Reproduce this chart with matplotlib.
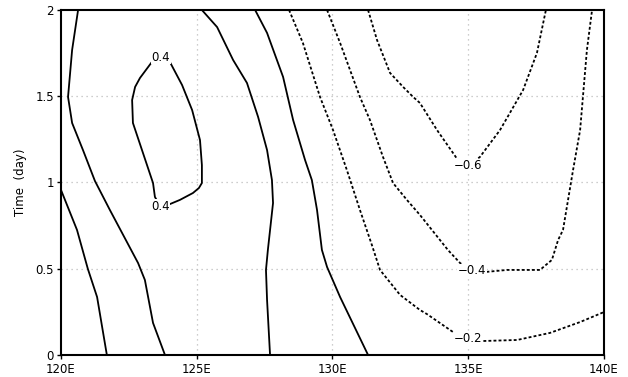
import matplotlib
matplotlib.use("Agg")
import matplotlib.pyplot as plt

# contour lines: lon (deg E), time (day)
line_a_lon = [120.0, 120.59, 120.99, 121.33, 121.69]
line_a_t = [0.957, 0.725, 0.499, 0.336, 0.0]

line_b_lon = [120.63, 120.41, 120.26, 120.41, 120.81, 121.25, 121.80, 122.84, 123.09, 123.39, 123.83]
line_b_t = [2.0, 1.768, 1.496, 1.345, 1.188, 1.009, 0.841, 0.533, 0.435, 0.186, 0.0]

loop_lon = [123.68, 124.01, 124.46, 124.83, 125.12, 125.19, 125.19, 125.08, 124.86, 124.38, 123.94,
            123.65, 123.46, 123.39, 123.02, 122.65, 122.62, 122.73, 122.91, 123.35, 123.68]
loop_t = [1.722, 1.699, 1.565, 1.420, 1.246, 1.101, 0.997, 0.968, 0.939, 0.899, 0.870,
          0.864, 0.916, 0.997, 1.171, 1.345, 1.478, 1.554, 1.606, 1.699, 1.722]

line_c_lon = [125.19, 125.75, 126.34, 126.85, 127.26, 127.59, 127.77, 127.81, 127.62, 127.55, 127.59, 127.70]
line_c_t = [2.0, 1.901, 1.710, 1.577, 1.380, 1.188, 1.014, 0.881, 0.609, 0.493, 0.319, 0.0]

line_d_lon = [127.15, 127.59, 128.18, 128.55, 128.99, 129.24, 129.43, 129.61, 129.80, 130.28, 131.31]
line_d_t = [2.0, 1.867, 1.612, 1.362, 1.130, 1.014, 0.841, 0.609, 0.510, 0.336, 0.0]

neg02_lon = [128.40, 128.91, 129.54, 130.02, 130.53, 131.01, 131.45, 131.75, 132.49, 133.22, 133.48,
             134.44, 135.0, 135.54, 136.80, 138.01, 139.12, 140.0]
neg02_t = [2.0, 1.809, 1.496, 1.304, 1.072, 0.841, 0.638, 0.493, 0.348, 0.261, 0.237,
           0.133, 0.09, 0.081, 0.087, 0.128, 0.191, 0.249]

neg04_lon = [129.80, 130.28, 131.01, 131.38, 131.86, 132.23, 132.74, 133.22, 134.25, 134.70, 135.14,
             135.62, 136.43, 137.64, 138.08, 138.31, 138.49, 138.86, 139.12, 139.37, 139.56]
neg04_t = [2.0, 1.809, 1.496, 1.362, 1.148, 0.997, 0.899, 0.812, 0.609, 0.533, 0.487,
           0.481, 0.493, 0.493, 0.551, 0.667, 0.725, 1.072, 1.304, 1.768, 2.0]

neg06_lon = [131.31, 131.64, 132.12, 132.60, 132.97, 133.22, 133.85, 134.62, 134.99, 135.43,
             136.17, 137.02, 137.53, 137.86]
neg06_t = [2.0, 1.826, 1.635, 1.554, 1.496, 1.461, 1.304, 1.130, 1.096, 1.148,
           1.304, 1.536, 1.751, 2.0]

# contour labels: text, lon, time
labels = [("0.4", 123.68, 1.727), ("0.4", 123.65, 0.86),
          ("\u22120.6", 134.99, 1.096), ("\u22120.4", 135.14, 0.487), ("\u22120.2", 134.99, 0.093)]

xticks = [120, 125, 130, 135, 140]
xticklabels = ["120E", "125E", "130E", "135E", "140E"]
yticks = [0, 0.5, 1, 1.5, 2]
yticklabels = ["0", "0.5", "1", "1.5", "2"]

fig = plt.figure(figsize=(6.28, 3.77), dpi=100)
ax = fig.add_axes([0.0971, 0.0584, 0.8647, 0.9151])

# grid
for x in xticks[1:-1]:
    ax.axvline(x, color="#bdbdbd", lw=0.9, ls=(0, (1, 3)), zorder=0)
for y in yticks[1:-1]:
    ax.axhline(y, color="#bdbdbd", lw=0.9, ls=(0, (1, 3)), zorder=0)

solid = dict(color="black", lw=1.3, solid_capstyle="butt", solid_joinstyle="round")
dashed = dict(color="black", lw=1.3, ls=(0, (1.6, 1.2)))

ax.plot(line_a_lon, line_a_t, **solid)
ax.plot(line_b_lon, line_b_t, **solid)
ax.plot(loop_lon, loop_t, **solid)
ax.plot(line_c_lon, line_c_t, **solid)
ax.plot(line_d_lon, line_d_t, **solid)
ax.plot(neg02_lon, neg02_t, **dashed)
ax.plot(neg04_lon, neg04_t, **dashed)
ax.plot(neg06_lon, neg06_t, **dashed)

for txt, lx, ly in labels:
    ax.text(lx, ly, txt, ha="center", va="center", fontsize=8.5, zorder=5,
            bbox=dict(facecolor="white", edgecolor="none", pad=0.6))

ax.set_xlim(120, 140)
ax.set_ylim(0, 2)
ax.set_xticks(xticks)
ax.set_xticklabels(xticklabels)
ax.set_yticks(yticks)
ax.set_yticklabels(yticklabels)
ax.tick_params(direction="out", length=3, width=1, labelsize=8.5)
ax.tick_params(axis="x", pad=3)
ax.tick_params(axis="y", pad=2)
for s in ax.spines.values():
    s.set_linewidth(1.5)
ax.set_ylabel("Time  (day)", fontsize=8.5, labelpad=6)

fig.savefig("out.png", dpi=100)
